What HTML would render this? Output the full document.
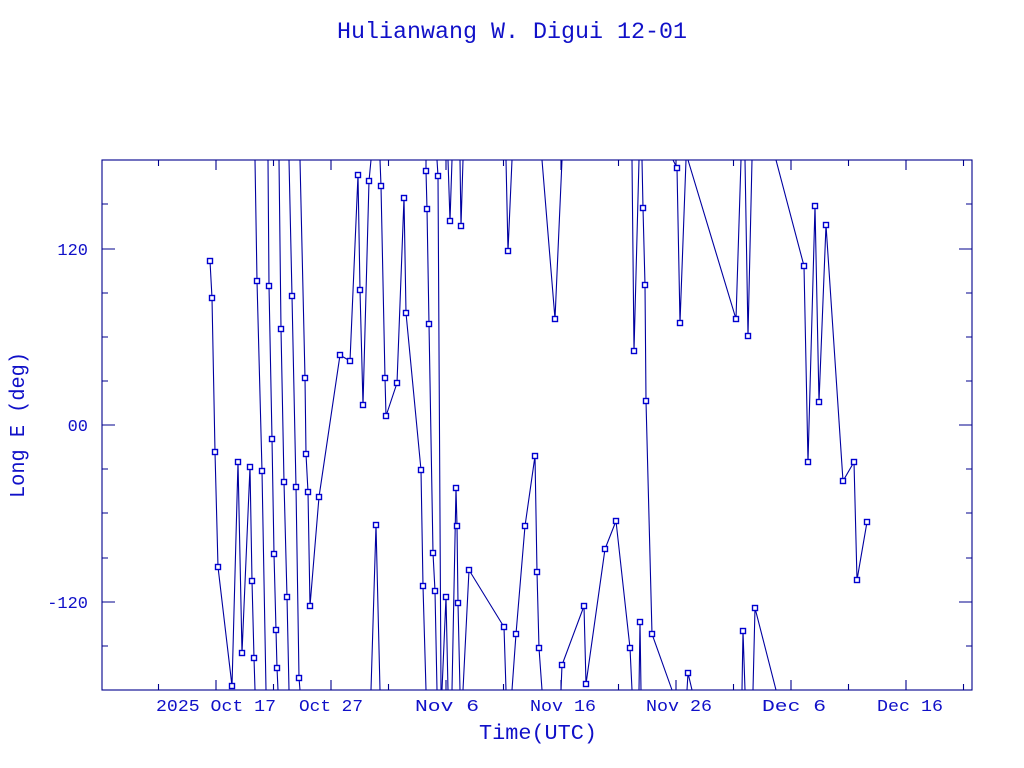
<!DOCTYPE html>
<html><head><meta charset="utf-8"><style>
html,body{margin:0;padding:0;background:#fff;}
svg{display:block;}
text{font-family:"Liberation Mono",monospace;fill:#1010c8;}
</style></head><body>
<svg width="1024" height="768" viewBox="0 0 1024 768" xmlns="http://www.w3.org/2000/svg">
<defs>
<marker id="sq" markerWidth="8" markerHeight="8" refX="4" refY="4" markerUnits="userSpaceOnUse">
<rect x="1.5" y="1.5" width="5" height="5" fill="#fff" stroke="#0000d0" stroke-width="1.4"/>
</marker>
</defs>
<text x="512" y="38" font-size="23" text-anchor="middle" textLength="350" lengthAdjust="spacingAndGlyphs">Hulianwang W. Digui 12-01</text>

<g stroke="#00008c" stroke-width="1.1" fill="none">
<rect x="102" y="160" width="870" height="530"/>
<!-- x ticks -->
<path d="M158.5 690v-6M216 690v-10M273.5 690v-6M331 690v-10M388.5 690v-6M446 690v-10M503.5 690v-6M561 690v-10M618.5 690v-6M676 690v-10M733.5 690v-6M791 690v-10M848.5 690v-6M906 690v-10M963.5 690v-6
M158.5 160v6M216 160v10M273.5 160v6M331 160v10M388.5 160v6M446 160v10M503.5 160v6M561 160v10M618.5 160v6M676 160v10M733.5 160v6M791 160v10M848.5 160v6M906 160v10M963.5 160v6"/>
<!-- y ticks -->
<path d="M102 204h6M102 249h13M102 293h6M102 337h6M102 381h6M102 425h13M102 469h6M102 513h6M102 558h6M102 602h13M102 646h6
M972 204h-6M972 249h-13M972 293h-6M972 337h-6M972 381h-6M972 425h-13M972 469h-6M972 513h-6M972 558h-6M972 602h-13M972 646h-6"/>
</g>

<g font-size="17">
<text x="88" y="255" text-anchor="end">120</text>
<text x="88" y="431" text-anchor="end">00</text>
<text x="88" y="608" text-anchor="end">-120</text>
<text x="216" y="711" text-anchor="middle" textLength="120" lengthAdjust="spacingAndGlyphs">2025 Oct 17</text>
<text x="331" y="711" text-anchor="middle" textLength="64" lengthAdjust="spacingAndGlyphs">Oct 27</text>
<text x="447" y="711" text-anchor="middle" textLength="64" lengthAdjust="spacingAndGlyphs">Nov  6</text>
<text x="563" y="711" text-anchor="middle" textLength="66" lengthAdjust="spacingAndGlyphs">Nov 16</text>
<text x="679" y="711" text-anchor="middle" textLength="66" lengthAdjust="spacingAndGlyphs">Nov 26</text>
<text x="794" y="711" text-anchor="middle" textLength="64" lengthAdjust="spacingAndGlyphs">Dec  6</text>
<text x="910" y="711" text-anchor="middle" textLength="66" lengthAdjust="spacingAndGlyphs">Dec 16</text>
</g>
<text x="538" y="739" font-size="21" text-anchor="middle" textLength="118" lengthAdjust="spacingAndGlyphs">Time(UTC)</text>
<text transform="translate(24,425) rotate(-90)" font-size="21" text-anchor="middle" textLength="146" lengthAdjust="spacingAndGlyphs">Long E (deg)</text>

<g stroke="#0000a0" stroke-width="1.1" fill="none">
<polyline points="210,261 212,298 215,452 218,567 232,686 238,462 242,653 250,467 252,581 254,658 255,690"/>
<polyline points="255,160 257,281 262,471 266,690"/>
<polyline points="268,160 269,286 272,439 274,554 276,630 277,668 278,690"/>
<polyline points="279,160 281,329 284,482 287,597 289,690"/>
<polyline points="289,160 292,296 296,487 299,678 300,690"/>
<polyline points="300,160 305,378 306,454 308,492 310,606 319,497 340,355 350,361 358,175 360,290 363,405 369,181 371,160"/>
<polyline points="371,690 376,525 380,690"/>
<polyline points="380,160 381,186 385,378 386,416 397,383 404,198 406,313 421,470 423,586 426,690"/>
<polyline points="426,160 426,171 427,209 429,324 433,553 435,591 437,690"/>
<polyline points="437,160 438,176 441,690"/>
<polyline points="442,690 446,597 448,690"/>
<polyline points="448,160 450,221 452,160"/>
<polyline points="452,690 456,488 457,526 458,603 460,690"/>
<polyline points="460,160 461,226 463,160"/>
<polyline points="463,690 469,570 504,627 506,690"/>
<polyline points="506,160 508,251 512,160"/>
<polyline points="512,690 516,634 525,526 535,456 537,572 539,648 542,690"/>
<polyline points="542,160 555,319 562,160"/>
<polyline points="561,690 562,665 584,606 586,684 605,549 616,521 630,648 632,690"/>
<polyline points="632,160 634,351 639,160"/>
<polyline points="639,690 640,622 641,690"/>
<polyline points="642,160 643,208 645,285 646,401 652,634 672,690"/>
<polyline points="673,160 677,168 680,323 686,160"/>
<polyline points="687,690 688,673 692,690"/>
<polyline points="688,160 736,319 741,160"/>
<polyline points="742,690 743,631 745,690"/>
<polyline points="745,160 748,336 752,160"/>
<polyline points="753,690 755,608 776,690"/>
<polyline points="776,160 804,266 808,462 815,206 819,402 826,225 843,481 854,462 857,580 867,522"/>
</g>

<polyline fill="none" stroke="none" marker-start="url(#sq)" marker-mid="url(#sq)" marker-end="url(#sq)" points="210,261 212,298 215,452 218,567 232,686 238,462 242,653 250,467 252,581 254,658 257,281 262,471 269,286 272,439 274,554 276,630 277,668 281,329 284,482 287,597 292,296 296,487 299,678 305,378 306,454 308,492 310,606 319,497 340,355 350,361 358,175 360,290 363,405 369,181 376,525 381,186 385,378 386,416 397,383 404,198 406,313 421,470 423,586 426,171 427,209 429,324 433,553 435,591 438,176 446,597 450,221 456,488 457,526 458,603 461,226 469,570 504,627 508,251 516,634 525,526 535,456 537,572 539,648 555,319 562,665 584,606 586,684 605,549 616,521 630,648 634,351 640,622 643,208 645,285 646,401 652,634 677,168 680,323 688,673 736,319 743,631 748,336 755,608 804,266 808,462 815,206 819,402 826,225 843,481 854,462 857,580 867,522"/>
</svg>
</body></html>
